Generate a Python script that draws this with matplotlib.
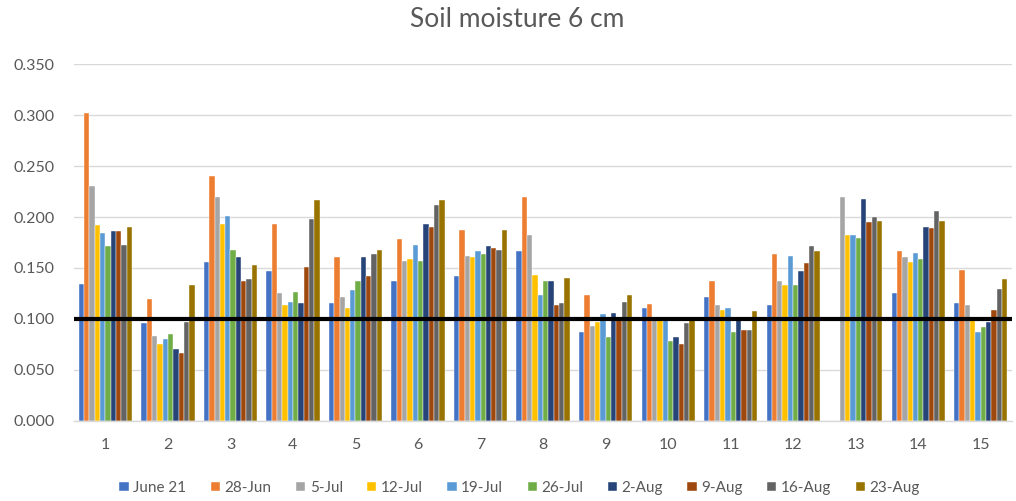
import numpy as np
import matplotlib.pyplot as plt

# Sites along the x axis
sites = [str(i) for i in range(1, 16)]

# Weekly soil moisture readings at 6 cm, one list per sampling date
june_21 = [0.134, 0.096, 0.156, 0.147, 0.116, 0.137, 0.142, 0.167, 0.087, 0.111, 0.122, 0.114, 0.0, 0.125, 0.116]
jun_28 = [0.302, 0.120, 0.240, 0.193, 0.161, 0.178, 0.187, 0.220, 0.123, 0.115, 0.137, 0.164, 0.0, 0.167, 0.148]
jul_5 = [0.230, 0.083, 0.220, 0.125, 0.122, 0.157, 0.162, 0.182, 0.093, 0.099, 0.114, 0.137, 0.220, 0.161, 0.114]
jul_12 = [0.192, 0.075, 0.193, 0.114, 0.111, 0.159, 0.161, 0.143, 0.097, 0.099, 0.109, 0.133, 0.182, 0.156, 0.099]
jul_19 = [0.184, 0.080, 0.201, 0.117, 0.128, 0.173, 0.167, 0.123, 0.105, 0.100, 0.111, 0.162, 0.182, 0.165, 0.087]
jul_26 = [0.172, 0.085, 0.168, 0.126, 0.137, 0.157, 0.164, 0.137, 0.082, 0.078, 0.087, 0.133, 0.179, 0.159, 0.092]
aug_2 = [0.186, 0.070, 0.161, 0.116, 0.161, 0.193, 0.172, 0.137, 0.106, 0.082, 0.099, 0.147, 0.218, 0.190, 0.097]
aug_9 = [0.186, 0.067, 0.137, 0.151, 0.142, 0.190, 0.170, 0.114, 0.099, 0.075, 0.089, 0.155, 0.195, 0.189, 0.109]
aug_16 = [0.173, 0.097, 0.139, 0.198, 0.164, 0.212, 0.168, 0.116, 0.117, 0.096, 0.089, 0.172, 0.200, 0.206, 0.129]
aug_23 = [0.190, 0.133, 0.153, 0.217, 0.168, 0.217, 0.187, 0.140, 0.123, 0.099, 0.108, 0.167, 0.196, 0.196, 0.139]

series_names = ["June 21", "28-Jun", "5-Jul", "12-Jul", "19-Jul",
                "26-Jul", "2-Aug", "9-Aug", "16-Aug", "23-Aug"]
series = [june_21, jun_28, jul_5, jul_12, jul_19, jul_26, aug_2, aug_9, aug_16, aug_23]
colors = ["#4472C4", "#ED7D31", "#A5A5A5", "#FFC000", "#5B9BD5",
          "#70AD47", "#264478", "#9E480E", "#636363", "#997300"]

threshold = 0.100

plt.rcParams['font.family'] = ['Lato', 'DejaVu Sans']
text_color = "#595959"

fig = plt.figure(figsize=(10.16, 5.01), dpi=100)
ax = fig.add_axes([0.073, 0.160, 0.923, 0.712])

x = np.arange(len(sites))
bar_w = 0.085
for i, (name, vals, c) in enumerate(zip(series_names, series, colors)):
    offset = (i - (len(series) - 1) / 2) * bar_w
    ax.bar(x + offset, vals, width=bar_w, color=c, label=name,
           edgecolor="white", linewidth=0.3, zorder=2)

ax.axhline(threshold, color="black", linewidth=3, zorder=3)

ax.set_xlim(-0.5, len(sites) - 0.5)
ax.set_ylim(0, 0.35)
ax.set_yticks(np.arange(0, 0.351, 0.05))
ax.set_yticklabels([f"{v:.3f}" for v in np.arange(0, 0.351, 0.05)])
ax.set_xticks(x)
ax.set_xticklabels(sites)
ax.tick_params(axis="both", length=0, labelsize=11.5, colors=text_color)
ax.tick_params(axis="y", pad=14)
ax.tick_params(axis="x", pad=12)

ax.yaxis.grid(True, color="#D9D9D9", linewidth=1)
ax.set_axisbelow(True)
for side in ["top", "right", "left"]:
    ax.spines[side].set_visible(False)
ax.spines["bottom"].set_color("#D9D9D9")
ax.spines["bottom"].set_linewidth(1)

fig.text(0.509, 0.962, "Soil moisture 6 cm", fontsize=19, color=text_color,
         ha="center", va="center")

ax.legend(loc="upper center", bbox_to_anchor=(0.475, -0.13), ncol=10,
          frameon=False, fontsize=11, handlelength=0.6, handleheight=0.6,
          handletextpad=0.3, columnspacing=1.6, labelcolor=text_color)

fig.savefig("out.png", dpi=100)
